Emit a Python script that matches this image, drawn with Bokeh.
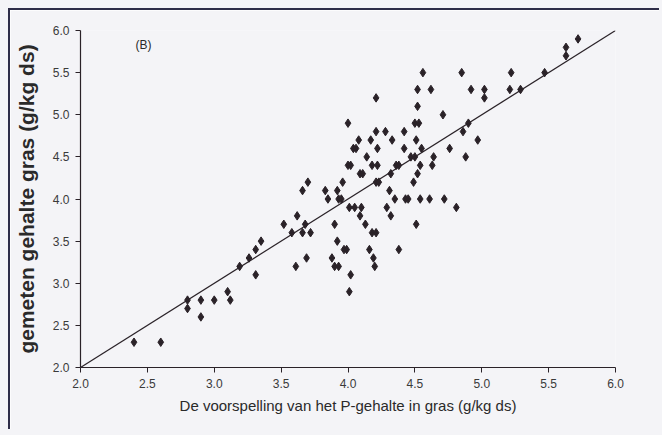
from bokeh.plotting import figure
from bokeh.models import Range1d, Label, FixedTicker, NumeralTickFormatter, ColumnDataSource
from bokeh.embed import file_html
from bokeh.resources import INLINE

# Predicted P content (x) and measured P content (y), g/kg ds
pred = [2.40, 2.60, 2.80, 2.80, 2.90, 2.90, 3.00, 3.10, 3.12, 3.19, 3.26, 3.31, 3.31, 3.35,
        3.52, 3.58, 3.61, 3.62, 3.66, 3.66, 3.68, 3.69, 3.70, 3.72, 3.83, 3.85, 3.88, 3.90,
        3.90, 3.92, 3.92, 3.93, 3.93, 3.96, 3.95, 3.97, 3.99, 4.00, 4.00, 4.01, 4.02, 4.01,
        4.02, 4.04, 4.05, 4.06, 4.08, 4.09, 4.09, 4.10, 4.11, 4.13, 4.14, 4.16, 4.17, 4.18,
        4.18, 4.19, 4.20, 4.21, 4.21, 4.21, 4.21, 4.22, 4.22, 4.23, 4.28, 4.29, 4.31, 4.32,
        4.32, 4.33, 4.35, 4.36, 4.38, 4.38, 4.42, 4.42, 4.43, 4.45, 4.47, 4.49, 4.50, 4.50,
        4.51, 4.52, 4.52, 4.51, 4.52, 4.53, 4.54, 4.54, 4.55, 4.56, 4.61, 4.62, 4.63, 4.64,
        4.71, 4.72, 4.76, 4.81, 4.85, 4.86, 4.88, 4.90, 4.92, 4.97, 5.02, 5.02, 5.22, 5.21,
        5.29, 5.47, 5.63, 5.63, 5.72]
meas = [2.30, 2.30, 2.80, 2.70, 2.80, 2.60, 2.80, 2.90, 2.80, 3.20, 3.30, 3.40, 3.10, 3.50,
        3.70, 3.60, 3.20, 3.80, 4.10, 3.60, 3.70, 3.30, 4.20, 3.60, 4.10, 4.00, 3.30, 3.70,
        3.20, 4.10, 3.50, 4.00, 3.20, 4.20, 4.00, 3.40, 3.40, 4.90, 4.40, 3.90, 3.10, 2.90,
        4.40, 4.60, 3.90, 4.60, 4.70, 4.30, 3.80, 3.90, 4.30, 3.70, 4.50, 3.40, 4.70, 3.60,
        4.40, 3.30, 3.20, 5.20, 4.80, 3.60, 4.20, 4.40, 4.60, 4.20, 4.80, 3.90, 4.10, 4.30,
        3.80, 4.70, 4.00, 4.40, 3.40, 4.40, 4.80, 4.60, 4.00, 4.00, 4.50, 4.20, 4.50, 4.90,
        4.70, 5.10, 5.30, 3.70, 4.30, 4.90, 4.40, 4.00, 4.60, 5.50, 4.00, 5.30, 4.40, 4.50,
        5.00, 4.00, 4.60, 3.90, 5.50, 4.80, 4.50, 4.90, 5.30, 4.70, 5.30, 5.20, 5.50, 5.30,
        5.30, 5.50, 5.70, 5.80, 5.90]

line_x = [2.0, 6.0]
line_y = [2.0, 6.0]
x_ticks = [2.0, 2.5, 3.0, 3.5, 4.0, 4.5, 5.0, 5.5, 6.0]
y_ticks = [2.0, 2.5, 3.0, 3.5, 4.0, 4.5, 5.0, 5.5, 6.0]
panel_label = "(B)"
x_title = "De voorspelling van het P-gehalte in gras (g/kg ds)"
y_title = "gemeten gehalte gras (g/kg ds)"

paper = "#f4f4f7"
ink = "#2a2228"
font = "Liberation Sans"

p = figure(frame_width=535, frame_height=337,
           x_range=Range1d(2, 6), y_range=Range1d(2, 6),
           output_backend="svg", toolbar_location=None,
           min_border_left=70, min_border_top=20, min_border_right=44, min_border_bottom=62,
           background_fill_color=paper, border_fill_color=paper)
p.styles = {"border-top": "2px solid #2e2d48", "border-left": "2px solid #2e2d48",
            "margin-left": "8px", "margin-top": "8px",
            "box-shadow": "0 0 0 12px " + paper}
p.outline_line_color = None
p.grid.visible = False

src = ColumnDataSource(dict(x=pred, y=meas))
p.line(line_x, line_y, line_color=ink, line_width=1.2)
p.scatter("x", "y", source=src, marker="diamond", size=8.5, fill_color=ink, line_color=ink)

for ax, ticks in ((p.xaxis[0], x_ticks), (p.yaxis[0], y_ticks)):
    ax.ticker = FixedTicker(ticks=ticks)
    ax.formatter = NumeralTickFormatter(format="0.0")
    ax.minor_tick_line_color = None
    ax.major_tick_in = 0
    ax.major_tick_out = 5
    ax.axis_line_color = ink
    ax.major_tick_line_color = ink
    ax.axis_line_width = 1.2
    ax.major_label_text_font = font
    ax.major_label_text_font_size = "12px"
    ax.major_label_text_color = "#3a3a3a"

p.xaxis[0].axis_label = x_title
p.xaxis[0].axis_label_text_font = font
p.xaxis[0].axis_label_text_font_size = "15px"
p.xaxis[0].axis_label_text_font_style = "normal"
p.xaxis[0].axis_label_text_color = "#2a2a2a"
p.xaxis[0].axis_label_standoff = 6
p.xaxis[0].major_label_standoff = 6

p.yaxis[0].axis_label = y_title
p.yaxis[0].axis_label_text_font = font
p.yaxis[0].axis_label_text_font_size = "21px"
p.yaxis[0].axis_label_text_font_style = "bold"
p.yaxis[0].axis_label_text_color = "#2a2a2a"
p.yaxis[0].axis_label_standoff = 12
p.yaxis[0].major_label_standoff = 6

p.add_layout(Label(x=55, y=316, x_units="screen", y_units="screen", text=panel_label,
                   text_font=font, text_font_size="12px", text_color="#2a2a2a"))

open("out.html", "w").write(file_html(p, INLINE))
